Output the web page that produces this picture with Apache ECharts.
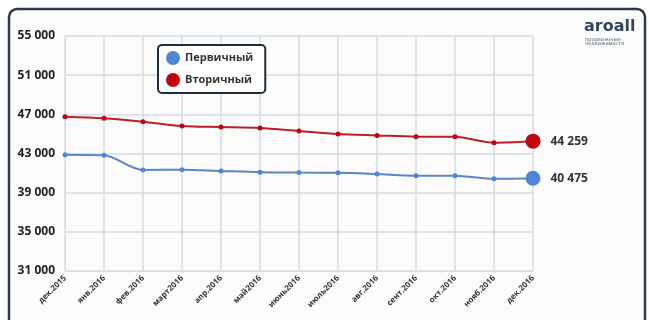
<!DOCTYPE html>
<html>
<head>
<meta charset="utf-8">
<script src="https://cdn.jsdelivr.net/npm/echarts@6/dist/echarts.min.js"></script>
<style>
  html, body { margin: 0; padding: 0; background: #fff; }
  #chart { width: 649px; height: 320px; }
</style>
</head>
<body>
<div id="chart"></div>
<script>
  // месяцы
  var months = ['дек.2015', 'янв.2016', 'фев.2016', 'март2016', 'апр.2016', 'май2016', 'июнь2016',
    'июль2016', 'авг.2016', 'сент.2016', 'окт.2016', 'нояб.2016', 'дек.2016']
  // первичный рынок, руб/м2
  var primary = [42880, 42820, 41320, 41350, 41220, 41090, 41050, 41040, 40910, 40740, 40740, 40420, 40475]
  // вторичный рынок, руб/м2
  var secondary = [46760, 46600, 46250, 45810, 45710, 45610, 45300, 44990, 44850, 44720, 44700, 44110, 44259]
  var yTicks = [31000, 35000, 39000, 43000, 47000, 51000, 55000]

  var fmt = function (v) {
    return String(v).replace(/\B(?=(\d{3})+(?!\d))/g, ' ')
  }

  // последняя точка — крупный маркер с подписью
  function withEnd(arr) {
    return arr.map(function (v, i) {
      if (i !== arr.length - 1) return v
      return {
        value: v,
        symbolSize: 15,
        label: {
          show: true,
          position: 'right',
          distance: 10,
          formatter: function (p) { return fmt(p.value) },
          color: '#333',
          fontSize: 12,
          fontWeight: 'bold',
          fontFamily: 'Open Sans'
        }
      }
    })
  }

  var chart = echarts.init(document.getElementById('chart'))
  chart.setOption({
    animation: false,
    backgroundColor: '#fff',
    textStyle: { fontFamily: 'Open Sans' },
    graphic: [
      {
        type: 'rect',
        shape: { x: 9, y: 9, width: 636, height: 330, r: 8 },
        style: { fill: '#fcfcfb', stroke: '#2b3b4c', lineWidth: 2.5 },
        z: -1
      },
      {
        type: 'text',
        left: 584,
        top: 19,
        style: { text: 'arоall', fill: '#34465c', fontSize: 16, fontWeight: 'bold', fontFamily: 'DejaVu Sans' }
      },
      {
        type: 'text',
        left: 585,
        top: 37,
        style: { text: 'продвижение\nнедвижимости', fill: '#56677a', fontSize: 5, lineHeight: 4, fontFamily: 'DejaVu Sans' }
      }
    ],
    grid: {
      left: 65,
      right: 116,
      top: 36,
      bottom: 49
    },
    legend: {
      data: ['Первичный', 'Вторичный'],
      orient: 'vertical',
      left: 158,
      top: 45,
      padding: [6, 12, 6, 8],
      itemGap: 8,
      icon: 'circle',
      itemWidth: 14,
      itemHeight: 14,
      borderColor: '#1f2d3a',
      borderWidth: 2,
      borderRadius: 4,
      backgroundColor: '#fff',
      textStyle: { color: '#333', fontSize: 11, fontWeight: 'bold', fontFamily: 'Open Sans' }
    },
    xAxis: {
      type: 'category',
      data: months,
      boundaryGap: false,
      axisLine: { lineStyle: { color: '#d3dcea' } },
      axisTick: { show: false },
      axisLabel: {
        rotate: 45,
        interval: 0,
        margin: 6,
        fontSize: 8,
        fontWeight: 'bold',
        color: '#333'
      },
      splitLine: { show: true, lineStyle: { color: '#d3dcea', width: 1.5 } }
    },
    yAxis: {
      type: 'value',
      min: yTicks[0],
      max: yTicks[yTicks.length - 1],
      interval: 4000,
      axisLine: { show: true, lineStyle: { color: '#d3dcea' } },
      axisTick: { show: false },
      axisLabel: {
        margin: 10,
        fontSize: 12,
        fontWeight: 'bold',
        color: '#222',
        formatter: fmt
      },
      splitLine: { lineStyle: { color: '#d3dcea', width: 1.5 } }
    },
    series: [
      {
        name: 'Первичный',
        type: 'line',
        smooth: 0.3,
        data: withEnd(primary),
        symbol: 'circle',
        symbolSize: 5,
        itemStyle: { color: '#4f86d6' },
        lineStyle: { color: '#5b87c4', width: 2 }
      },
      {
        name: 'Вторичный',
        type: 'line',
        smooth: 0.3,
        data: withEnd(secondary),
        symbol: 'circle',
        symbolSize: 5,
        itemStyle: { color: '#c3040f' },
        lineStyle: { color: '#b8212a', width: 2 }
      }
    ]
  })
</script>
</body>
</html>
